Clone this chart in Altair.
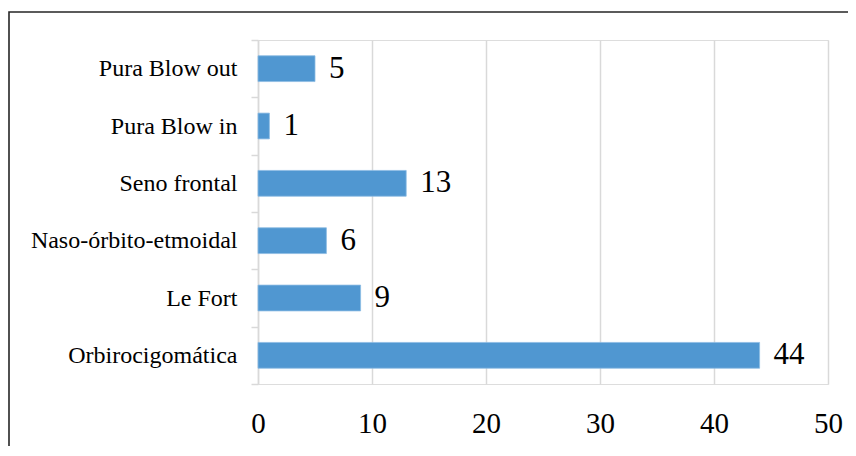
import altair as alt
import pandas as pd

categories = ["Pura Blow out", "Pura Blow in", "Seno frontal",
              "Naso-órbito-etmoidal", "Le Fort", "Orbirocigomática"]
values = [5, 1, 13, 6, 9, 44]
x_ticks = [0, 10, 20, 30, 40, 50]

df = pd.DataFrame({"cat": categories, "val": values})
frame_df = pd.DataFrame({"a": [0]})

FONT = "Liberation Serif"
GRID = "#d9d9d9"

y_enc = alt.Y("cat:N", sort=categories, title=None,
              scale=alt.Scale(paddingInner=0, paddingOuter=0),
              axis=alt.Axis(labelFont=FONT, labelFontSize=24, labelColor="#000000",
                            labelPadding=14, labelLimit=0, tickBand="extent", tickSize=7,
                            tickColor=GRID, tickWidth=1.5, domainColor=GRID,
                            domainWidth=1.5, grid=False))
x_enc = alt.X("val:Q", title=None,
              scale=alt.Scale(domain=[0, 50], nice=False),
              axis=alt.Axis(values=x_ticks, labelFont=FONT, labelFontSize=29,
                            labelColor="#000000", labelPadding=25, labelFlush=False,
                            ticks=False, domain=False, grid=True, gridColor=GRID,
                            gridWidth=1.5))

frame = alt.Chart(frame_df).mark_rect(fill="transparent", stroke="#262626",
                                      strokeWidth=1.6).encode(
    x=alt.value(-249), x2=alt.value(900), y=alt.value(-28), y2=alt.value(700))

bars = alt.Chart(df).mark_bar(color="#5097d1", stroke="#8bbbe3", strokeWidth=0.8,
                              height={"band": 0.45}).encode(x=x_enc, y=y_enc)

labels = alt.Chart(df).mark_text(align="left", baseline="middle", dx=14,
                                 font=FONT, fontSize=31, color="#000000").encode(
    x=alt.X("val:Q"), y=alt.Y("cat:N", sort=categories), text="val:Q")

chart = alt.layer(frame, bars, labels).properties(
    width=570, height=344,
    autosize=alt.AutoSizeParams(type="none"),
    padding={"left": 250, "top": 32, "right": 20, "bottom": 62},
).configure_view(stroke=None).configure(background="#ffffff")

chart.save("out.html", embed_options={"renderer": "svg", "actions": False})
